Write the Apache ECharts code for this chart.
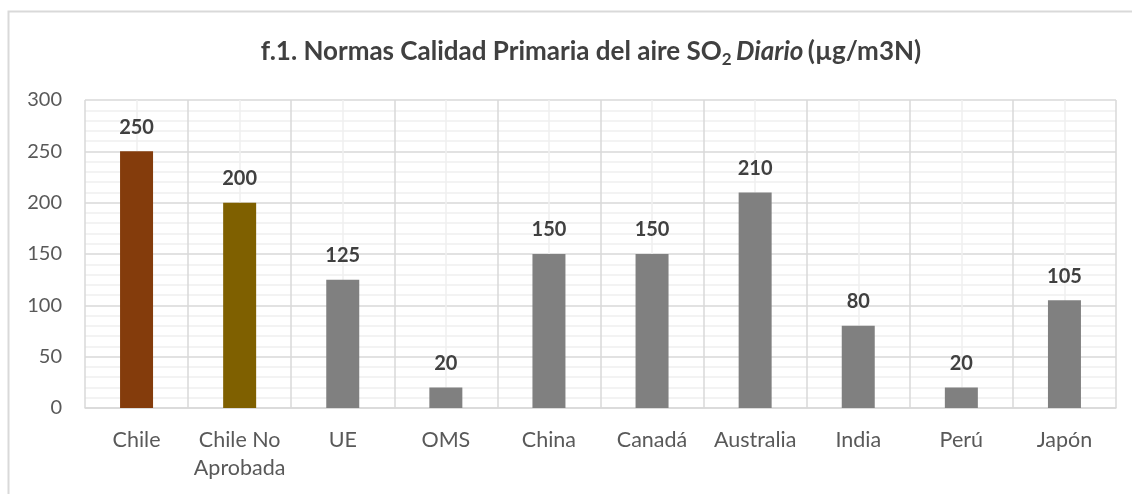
<!DOCTYPE html>
<html>
<head>
<meta charset="utf-8">
<script src="https://cdn.jsdelivr.net/npm/echarts@6/dist/echarts.min.js"></script>
<style>
  html, body { margin: 0; padding: 0; background: #fff; }
  #chart { width: 1132px; height: 494px; }
</style>
</head>
<body>
<div id="chart"></div>
<script>
const paises = ['Chile', 'Chile No\nAprobada', 'UE', 'OMS', 'China', 'Canadá', 'Australia', 'India', 'Perú', 'Japón'];
const valores = [250, 200, 125, 20, 150, 150, 210, 80, 20, 105];
const yTicks = [0, 50, 100, 150, 200, 250, 300];

// colores de las barras (las dos de Chile destacadas)
const barColors = ['#843C0C', '#7F6000', '#808080', '#808080', '#808080', '#808080', '#808080', '#808080', '#808080', '#808080'];

const font = 'Lato, "Open Sans", sans-serif';
const chart = echarts.init(document.getElementById('chart'));

const option = {
  animation: false,
  textStyle: { fontFamily: font },
  title: {
    text: '{b|f.1. Normas Calidad Primaria del aire SO}{sub|2} {i|Diario} {b|(µg/m3N)}',
    left: 586,
    top: 30,
    textAlign: 'center',
    textStyle: {
      rich: {
        b: { fontSize: 26, fontWeight: 'bold', color: '#404040', fontFamily: font },
        i: { fontSize: 26, fontWeight: 'bold', fontStyle: 'italic', color: '#404040', fontFamily: font },
        sub: { fontSize: 17, fontWeight: 'bold', color: '#404040', fontFamily: font, padding: [16, 0, 0, 0] }
      }
    }
  },
  graphic: [{
    type: 'rect',
    shape: { x: 8.5, y: 11.5, width: 1200, height: 600 },
    style: { fill: 'none', stroke: '#d9d9d9', lineWidth: 2 },
    silent: true
  }],
  grid: { left: 85, right: 16, top: 100, bottom: 86 },
  xAxis: [{
    type: 'category',
    data: paises,
    axisLine: { lineStyle: { color: '#d9d9d9', width: 1.5 } },
    axisTick: { show: false },
    splitLine: { show: true, lineStyle: { color: '#d9d9d9', width: 1.5 } },
    axisLabel: { color: '#595959', fontSize: 21.5, lineHeight: 28, margin: 18, interval: 0 }
  }, {
    type: 'value',
    position: 'top',
    min: 0,
    max: 10,
    interval: 1,
    axisLine: { show: false },
    axisTick: { show: false },
    axisLabel: { show: false },
    splitLine: { show: false },
    minorTick: { show: false, splitNumber: 2 },
    minorSplitLine: { show: true, lineStyle: { color: '#f0f0f0', width: 1.5 } }
  }],
  yAxis: {
    type: 'value',
    min: yTicks[0],
    max: yTicks[yTicks.length - 1],
    interval: 50,
    axisLine: { show: false },
    axisTick: { show: false },
    axisLabel: { color: '#595959', fontSize: 20, margin: 23 },
    splitLine: { lineStyle: { color: '#d9d9d9', width: 1.5 } },
    minorTick: { show: false, splitNumber: 5 },
    minorSplitLine: { show: true, lineStyle: { color: '#f0f0f0', width: 1.5 } }
  },
  series: [{
    type: 'bar',
    xAxisIndex: 0,
    data: valores,
    barWidth: 33,
    itemStyle: { color: p => barColors[p.dataIndex] },
    label: {
      show: true,
      position: 'top',
      distance: 14,
      color: '#404040',
      fontSize: 20,
      fontWeight: 'bold'
    }
  }]
};

chart.setOption(option);
</script>
</body>
</html>
